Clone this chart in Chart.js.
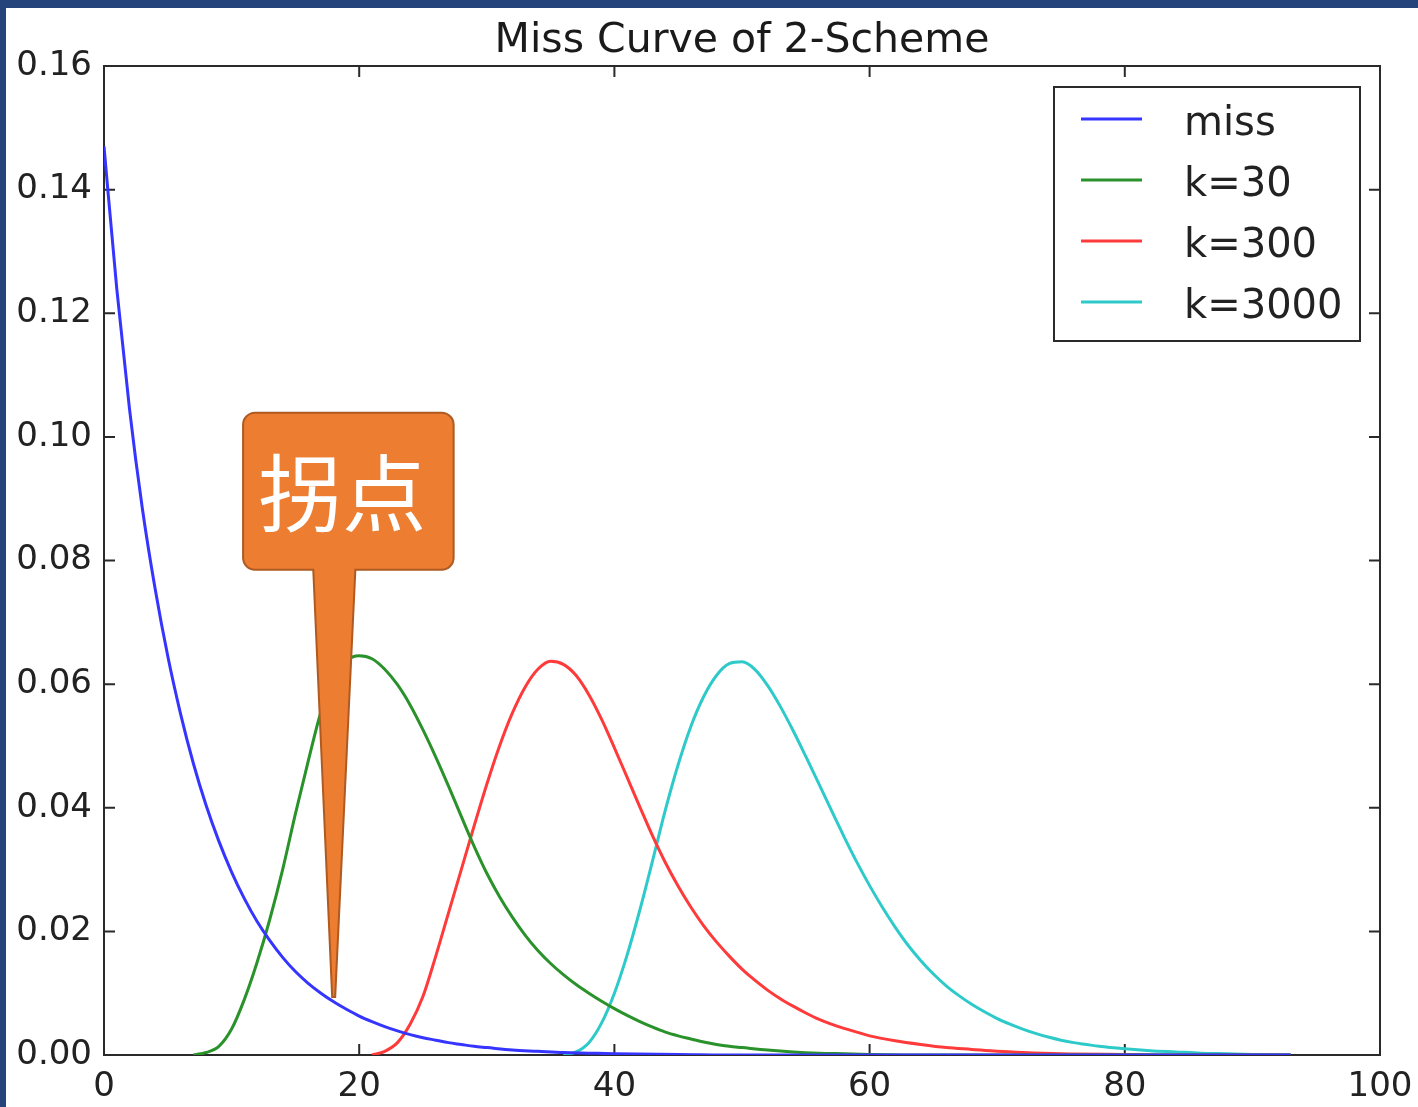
<!DOCTYPE html>
<html>
<head>
<meta charset="utf-8">
<script src="https://cdn.jsdelivr.net/npm/chart.js@4.4.1/dist/chart.umd.min.js"></script>
<style>
    html, body { margin: 0; padding: 0; background: #26447c; }
    #wrap { position: absolute; left: 6px; top: 8px; width: 1412px; height: 1099px; background: #fff; }
</style>
</head>
<body>
<div id="wrap"><canvas id="chart_canvas" width="1412" height="1099"></canvas></div>
<script>
const TITLE = 'Miss Curve of 2-Scheme';
const X_TICKS = [0, 20, 40, 60, 80, 100];
const Y_TICKS = [0, 0.02, 0.04, 0.06, 0.08, 0.10, 0.12, 0.14, 0.16];
const Y_TICK_LABELS = ['0.00', '0.02', '0.04', '0.06', '0.08', '0.10', '0.12', '0.14', '0.16'];

// miss
const missX = [0, 1, 2, 3, 4, 5, 6, 7, 8, 9, 10, 11, 12, 13, 14, 15, 16, 17, 18, 19, 20, 21, 22, 23, 24, 25, 26, 27, 28, 29, 30, 32, 34, 36, 38, 40, 45, 50, 93];
const missY = [0.147, 0.124, 0.1045, 0.0885, 0.0755, 0.0645, 0.0552, 0.0472, 0.0404, 0.0346, 0.0296, 0.0253, 0.0216, 0.0185, 0.0158, 0.0135, 0.0116, 0.0100, 0.0086, 0.0074, 0.0063, 0.0054, 0.0046, 0.0039, 0.0033, 0.0028, 0.0024, 0.0020, 0.0017, 0.0014, 0.0012, 0.0008, 0.0006, 0.0004, 0.0003, 0.0002, 0.0001, 0, 0];

// k=30
const k30X = [7, 8, 9, 10, 11, 12, 13, 14, 15, 16, 17, 18, 19, 20, 21, 22, 23, 24, 25, 26, 27, 28, 29, 30, 31, 32, 33, 34, 35, 36, 37, 38, 39, 40, 41, 42, 43, 44, 45, 46, 47, 48, 49, 50, 52, 54, 56, 58, 60, 65, 93];
const k30Y = [0, 0.0004, 0.0014, 0.0042, 0.0090, 0.0150, 0.0220, 0.0300, 0.0390, 0.0475, 0.0555, 0.0610, 0.0638, 0.0646, 0.0641, 0.0624, 0.0599, 0.0566, 0.0526, 0.0482, 0.0435, 0.0386, 0.0338, 0.0294, 0.0256, 0.0223, 0.0194, 0.0169, 0.0148, 0.0130, 0.0114, 0.0100, 0.0087, 0.0075, 0.0064, 0.0054, 0.0045, 0.0037, 0.0031, 0.0026, 0.0021, 0.0017, 0.0014, 0.0012, 0.0008, 0.0005, 0.0003, 0.0002, 0.0001, 0, 0];

// k=300
const k300X = [21, 22, 23, 24, 25, 26, 27, 28, 29, 30, 31, 32, 33, 34, 35, 36, 37, 38, 39, 40, 41, 42, 43, 44, 45, 46, 47, 48, 49, 50, 51, 52, 53, 54, 55, 56, 57, 58, 59, 60, 62, 64, 66, 68, 70, 72, 75, 80, 85, 93];
const k300Y = [0, 0.0006, 0.0020, 0.0050, 0.0095, 0.0160, 0.0230, 0.0300, 0.0370, 0.0438, 0.0500, 0.0553, 0.0595, 0.0624, 0.0637, 0.0632, 0.0614, 0.0583, 0.0543, 0.0497, 0.0449, 0.0401, 0.0354, 0.0311, 0.0273, 0.0239, 0.0209, 0.0183, 0.0160, 0.0139, 0.0121, 0.0105, 0.0091, 0.0079, 0.0068, 0.0058, 0.0050, 0.0043, 0.0037, 0.0031, 0.0023, 0.0017, 0.0012, 0.0009, 0.0006, 0.0004, 0.0002, 0.0001, 0, 0];

// k=3000
const k3000X = [36, 37, 38, 39, 40, 41, 42, 43, 44, 45, 46, 47, 48, 49, 50, 51, 52, 53, 54, 55, 56, 57, 58, 59, 60, 61, 62, 63, 64, 65, 66, 67, 68, 69, 70, 71, 72, 73, 74, 75, 76, 77, 78, 80, 82, 84, 86, 88, 90, 93];
const k3000Y = [0, 0.0005, 0.0020, 0.0052, 0.0100, 0.0162, 0.0235, 0.0315, 0.0397, 0.0470, 0.0532, 0.0580, 0.0614, 0.0633, 0.0636, 0.0624, 0.0598, 0.0564, 0.0525, 0.0483, 0.0440, 0.0396, 0.0353, 0.0312, 0.0274, 0.0239, 0.0207, 0.0178, 0.0153, 0.0131, 0.0112, 0.0096, 0.0082, 0.0070, 0.0059, 0.0050, 0.0042, 0.0035, 0.0029, 0.0024, 0.0020, 0.0017, 0.0014, 0.0010, 0.0007, 0.0005, 0.0003, 0.0002, 0.0001, 0];

// callout "拐点", placed in data units
const CALLOUT_TEXT = '拐点';
const calloutBox = { x0: 10.9, x1: 27.4, y0: 0.1039, y1: 0.0785 };
const calloutNeck = [16.4, 19.7];
const calloutTip = { x: 18, y: 0.0094 };

const CHART_CANVAS = document.getElementById('chart_canvas');
const TICK_LEN = 11;
const FRAME_COLOR = '#2a2a2a';

const toPoints = (xs, ys) => xs.map((x, i) => ({ x: x, y: ys[i] }));

// title centred over the plot area, like matplotlib does
const titlePlugin = {
    id: 'axTitle',
    afterDraw(chart) {
        const { ctx, chartArea: a } = chart;
        ctx.save();
        ctx.fillStyle = '#1a1a1a';
        ctx.font = '41px "DejaVu Sans"';
        ctx.textAlign = 'center';
        ctx.textBaseline = 'middle';
        ctx.fillText(TITLE, (a.left + a.right) / 2, a.top - 25);
        ctx.restore();
    }
};

const framePlugin = {
    id: 'frame',
    beforeDatasetsDraw(chart) {
        const { ctx, chartArea: a, scales: { x, y } } = chart;
        ctx.save();
        ctx.strokeStyle = FRAME_COLOR;
        ctx.lineWidth = 2;
        ctx.beginPath();
        X_TICKS.forEach(v => {
            const px = x.getPixelForValue(v);
            ctx.moveTo(px, a.bottom); ctx.lineTo(px, a.bottom - TICK_LEN);
            ctx.moveTo(px, a.top); ctx.lineTo(px, a.top + TICK_LEN);
        });
        Y_TICKS.forEach(v => {
            const py = y.getPixelForValue(v);
            ctx.moveTo(a.left, py); ctx.lineTo(a.left + TICK_LEN, py);
            ctx.moveTo(a.right, py); ctx.lineTo(a.right - TICK_LEN, py);
        });
        ctx.stroke();
        ctx.strokeRect(a.left, a.top, a.right - a.left, a.bottom - a.top);
        ctx.restore();
    }
};

const legendPlugin = {
    id: 'boxLegend',
    afterDraw(chart) {
        const { ctx, chartArea: a } = chart;
        const w = 306, h = 254;
        const bx = a.right - 20 - w, by = a.top + 21;
        ctx.save();
        ctx.fillStyle = '#fff';
        ctx.fillRect(bx, by, w, h);
        ctx.lineWidth = 2;
        ctx.strokeStyle = FRAME_COLOR;
        ctx.strokeRect(bx, by, w, h);
        ctx.font = '40px "DejaVu Sans"';
        ctx.textBaseline = 'alphabetic';
        chart.data.datasets.forEach((ds, i) => {
            const cy = by + 32 + i * 61;
            ctx.strokeStyle = ds.borderColor;
            ctx.lineWidth = 3;
            ctx.beginPath();
            ctx.moveTo(bx + 27, cy);
            ctx.lineTo(bx + 88, cy);
            ctx.stroke();
            ctx.fillStyle = '#222';
            ctx.fillText(ds.label, bx + 130, cy + 16);
        });
        ctx.restore();
    }
};

const calloutPlugin = {
    id: 'callout',
    afterDraw(chart) {
        const { ctx, scales: { x, y } } = chart;
        const L = x.getPixelForValue(calloutBox.x0), R = x.getPixelForValue(calloutBox.x1);
        const T = y.getPixelForValue(calloutBox.y0), B = y.getPixelForValue(calloutBox.y1);
        const nl = x.getPixelForValue(calloutNeck[0]), nr = x.getPixelForValue(calloutNeck[1]);
        const tx = x.getPixelForValue(calloutTip.x), ty = y.getPixelForValue(calloutTip.y);
        const r = 12;
        ctx.save();
        ctx.beginPath();
        ctx.moveTo(L + r, T);
        ctx.lineTo(R - r, T);
        ctx.arcTo(R, T, R, T + r, r);
        ctx.lineTo(R, B - r);
        ctx.arcTo(R, B, R - r, B, r);
        ctx.lineTo(nr, B);
        ctx.lineTo(tx + 1.5, ty);
        ctx.lineTo(tx - 1.5, ty);
        ctx.lineTo(nl, B);
        ctx.lineTo(L + r, B);
        ctx.arcTo(L, B, L, B - r, r);
        ctx.lineTo(L, T + r);
        ctx.arcTo(L, T, L + r, T, r);
        ctx.closePath();
        ctx.fillStyle = '#ed7d31';
        ctx.fill();
        ctx.lineWidth = 2;
        ctx.strokeStyle = '#ae5a21';
        ctx.stroke();
        ctx.fillStyle = '#fff';
        ctx.font = '84px "Noto Sans CJK SC"';
        ctx.textAlign = 'center';
        ctx.textBaseline = 'middle';
        ctx.fillText(CALLOUT_TEXT, (L + R) / 2 - 6, (T + B) / 2 + 2);
        ctx.restore();
    }
};

const lineSet = (label, xs, ys, color) => ({
    label: label,
    data: toPoints(xs, ys),
    borderColor: color,
    borderWidth: 3,
    pointRadius: 0,
    fill: false,
    cubicInterpolationMode: 'monotone',
});

const data = {
    datasets: [
        lineSet('miss', missX, missY, '#3535ff'),
        lineSet('k=30', k30X, k30Y, '#2a922a'),
        lineSet('k=300', k300X, k300Y, '#ff3a3a'),
        lineSet('k=3000', k3000X, k3000Y, '#2ecaca'),
    ]
};

const tickFont = { family: 'DejaVu Sans', size: 34 };

const config = {
    type: 'line',
    data: data,
    options: {
        responsive: false,
        animation: false,
        maintainAspectRatio: false,
        layout: { padding: { left: 0, right: 38, top: 58, bottom: 0 } },
        plugins: {
            legend: { display: false },
            tooltip: { enabled: false },
            title: { display: false },
        },
        scales: {
            x: {
                type: 'linear',
                min: 0,
                max: 100,
                grid: { display: false },
                border: { display: false },
                afterBuildTicks: s => { s.ticks = X_TICKS.map(v => ({ value: v })); },
                afterFit: s => { s.height = 52; },
                ticks: {
                    color: '#222',
                    font: tickFont,
                    padding: 4,
                    maxRotation: 0,
                    callback: v => String(v),
                },
            },
            y: {
                type: 'linear',
                min: 0,
                max: 0.16,
                grid: { display: false },
                border: { display: false },
                afterBuildTicks: s => { s.ticks = Y_TICKS.map(v => ({ value: v })); },
                afterFit: s => { s.width = 98; },
                ticks: {
                    color: '#222',
                    font: tickFont,
                    padding: 4,
                    callback: (v, i) => Y_TICK_LABELS[i],
                },
            },
        },
    },
    plugins: [titlePlugin, framePlugin, legendPlugin, calloutPlugin],
};

const myChart = new Chart(CHART_CANVAS, config);
</script>
</body>
</html>
